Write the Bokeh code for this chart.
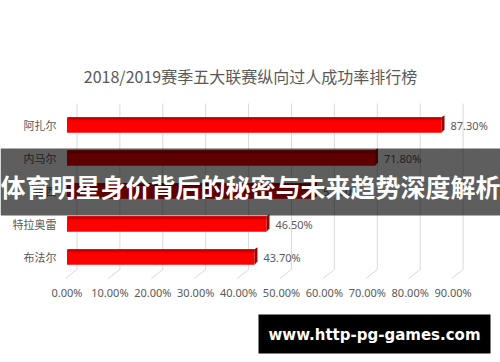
from bokeh.plotting import figure
from bokeh.models import Range1d
from bokeh.core.properties import value
from bokeh.embed import file_html
from bokeh.resources import INLINE

# ---- data ----
title_text = "2018/2019赛季五大联赛纵向过人成功率排行榜"
players = ["阿扎尔", "内马尔", "梅西", "特拉奥雷", "布法尔"]
rates = [87.3, 71.8, 57.6, 46.5, 43.7]
ticks = [0, 10, 20, 30, 40, 50, 60, 70, 80, 90]
banner_text = "体育明星身价背后的秘密与未来趋势深度解析"
watermark_text = "www.http-pg-games.com"

W, H = 500, 362
# pixel helpers (image coords -> data coords); 0% at x=66.5px, 4.29 px per %
X0, SX = 66.5, 4.29
Y0, SY = 124.5, 33.0
def dx(px):
    return (px - X0) / SX
def dy(py):
    return (py - Y0) / SY

p = figure(width=W, height=H, output_backend="svg", toolbar_location=None,
           x_range=Range1d(dx(0), dx(W)),
           y_range=Range1d(dy(H), dy(0)),
           min_border=0)
p.axis.visible = False
p.grid.visible = False
p.outline_line_color = None
p.background_fill_color = "white"
p.border_fill_color = "white"

idx = list(range(len(players)))

# 3D-ish gridlines
off = 10 / SX
for t in ticks:
    p.segment(x0=[t + off], y0=[dy(103)], x1=[t + off], y1=[dy(269)],
              line_color="#d9d9d9", line_width=1)
    p.segment(x0=[t + off], y0=[dy(269)], x1=[t - 1.5 / SX], y1=[dy(278)],
              line_color="#d9d9d9", line_width=1)

# bars
bh = 0.47
p.hbar(y=idx, left=0, right=rates, height=bh, fill_color="#ff0000", line_color=None)
# top darker strip
p.quad(left=[0.3] * len(rates), right=rates,
       top=[i - bh / 2 for i in idx], bottom=[i - bh / 2 + 0.09 for i in idx],
       fill_color="#c80000", line_color=None)
# side face
side_xs = [[r, r + 3 / SX, r + 3 / SX, r] for r in rates]
side_ys = [[i - bh / 2, i - bh / 2 - 0.06, i + bh / 2 - 0.1, i + bh / 2] for i in idx]
p.patches(side_xs, side_ys, fill_color="#a00000", line_color=None)

# category labels
p.text(x=[dx(56)] * len(players), y=idx, text=players,
       text_font=value("Noto Sans CJK SC"), text_font_size="11px",
       text_color="#595959", text_align="right", text_baseline="middle")
# value labels
p.text(x=[r + 9 / SX for r in rates], y=idx, text=[f"{r:.2f}%" for r in rates],
       text_font=value("Noto Sans"), text_font_size="11px",
       text_color="#595959", text_align="left", text_baseline="middle")
# tick labels
p.text(x=ticks, y=[dy(292)] * len(ticks), text=[f"{t:.2f}%" for t in ticks],
       text_font=value("Noto Sans"), text_font_size="11px",
       text_color="#595959", text_align="center", text_baseline="middle")
# title
p.text(x=[dx(250)], y=[dy(75)], text=[title_text],
       text_font=value("Noto Sans CJK SC"), text_font_size="16px",
       text_color="#595959", text_align="center", text_baseline="middle")

# banner overlay
p.quad(left=[dx(0)], right=[dx(500)], top=[dy(148)], bottom=[dy(215)],
       fill_color="black", fill_alpha=0.63, line_color=None)
p.text(x=[dx(250)], y=[dy(185)], text=[banner_text],
       text_font=value("Noto Sans CJK SC"), text_font_size="25px", text_font_style="bold",
       text_color="white", text_align="center", text_baseline="middle")

# watermark box
p.quad(left=[dx(258)], right=[dx(490)], top=[dy(314)], bottom=[dy(353)],
       fill_color="black", line_color=None)
p.text(x=[dx(374)], y=[dy(334)], text=[watermark_text],
       text_font=value("DejaVu Sans"), text_font_size="15px", text_font_style="bold",
       text_color="white", text_align="center", text_baseline="middle")

open("out.html", "w").write(file_html(p, INLINE))
